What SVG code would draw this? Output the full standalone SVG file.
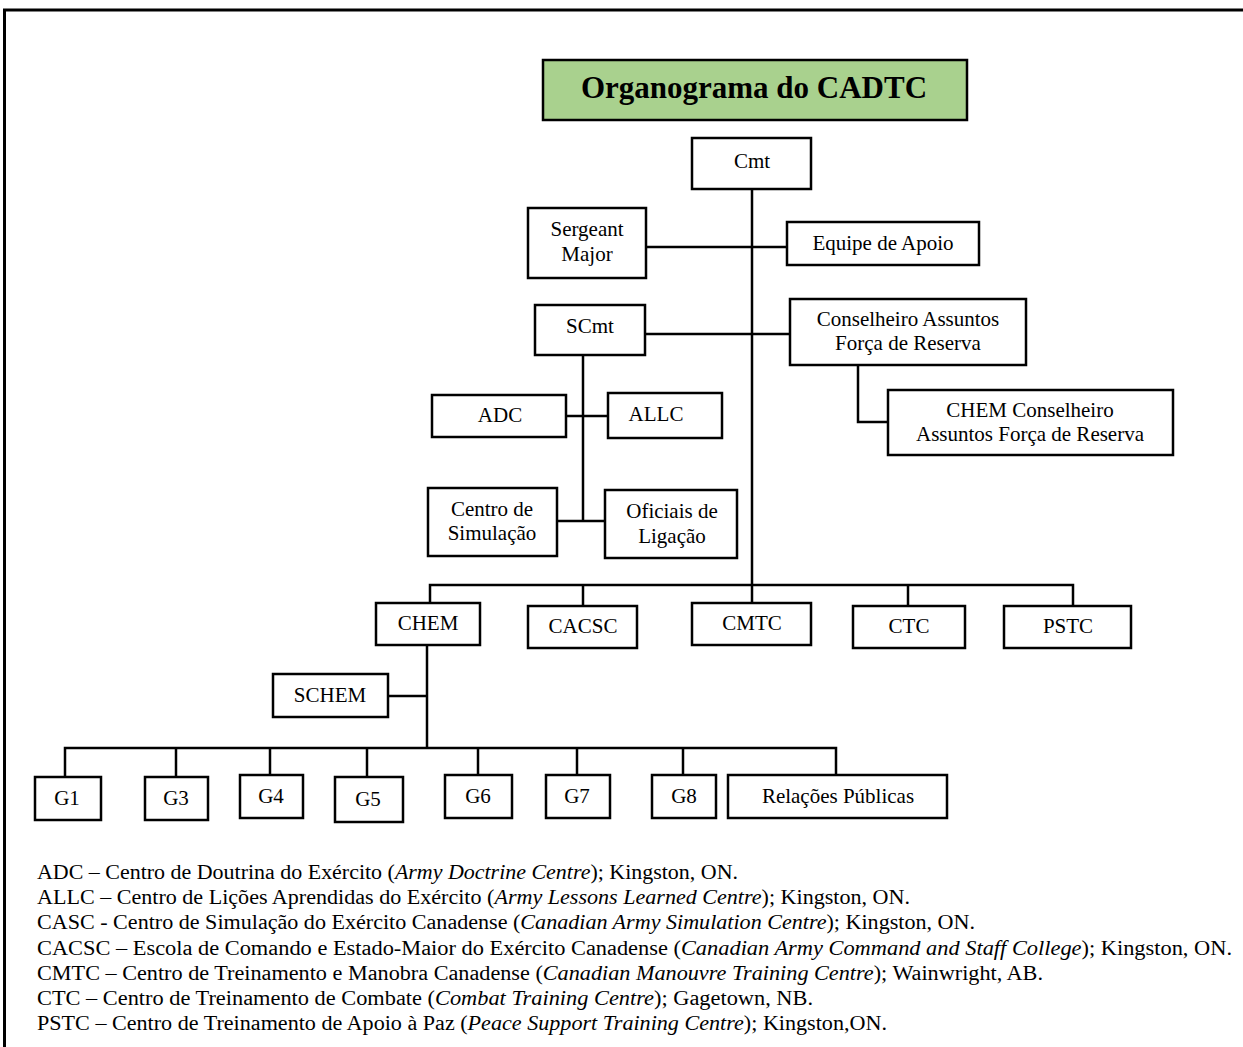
<svg xmlns="http://www.w3.org/2000/svg" width="1243" height="1047" viewBox="0 0 1243 1047" font-family="Liberation Serif, serif">
<style>
.box{fill:#fff;stroke:#000;stroke-width:2.5}
.t{font-size:21px;fill:#000;text-anchor:middle}
.ln{fill:none;stroke:#000;stroke-width:2.5}
.lg{font-size:20px;fill:#000}
.i{font-style:italic}
</style>
<rect width="1243" height="1047" fill="#fff"/>
<path d="M4.5 1047 V10 H1243" fill="none" stroke="#000" stroke-width="3"/>
<g id="title">
<rect x="543" y="60" width="424" height="60" fill="#a9d18e" stroke="#000" stroke-width="2.5"/>
<text x="754" y="98" font-family="Liberation Serif, serif" font-size="31" font-weight="bold" text-anchor="middle">Organograma do CADTC</text>
</g>
<g id="connectors">
<path class="ln" d="M752 189 V603"/>
<path class="ln" d="M646 247 H787"/>
<path class="ln" d="M645 334 H790"/>
<path class="ln" d="M858 365 V422 H888"/>
<path class="ln" d="M583 355 V521"/>
<path class="ln" d="M566 416 H608"/>
<path class="ln" d="M557 521 H605"/>
<path class="ln" d="M430 603 V585 H1073 V606"/>
<path class="ln" d="M583 585 V606"/>
<path class="ln" d="M908 585 V606"/>
<path class="ln" d="M427 645 V748"/>
<path class="ln" d="M388 696 H427"/>
<path class="ln" d="M65 777 V748 H836 V775"/>
<path class="ln" d="M176 748 V777"/>
<path class="ln" d="M270 748 V775"/>
<path class="ln" d="M367 748 V777"/>
<path class="ln" d="M478 748 V775"/>
<path class="ln" d="M577 748 V775"/>
<path class="ln" d="M683 748 V775"/>
</g>
<g id="cmt"><rect class="box" x="692" y="138" width="119" height="51"/><text class="t" x="752" y="168">Cmt</text></g>
<g id="sergeant"><rect class="box" x="528" y="208" width="118" height="70"/><text class="t" x="587" y="236">Sergeant</text><text class="t" x="587" y="261">Major</text></g>
<g id="equipe"><rect class="box" x="787" y="222" width="192" height="43"/><text class="t" x="883" y="250">Equipe de Apoio</text></g>
<g id="scmt"><rect class="box" x="535" y="305" width="110" height="50"/><text class="t" x="590" y="333">SCmt</text></g>
<g id="conselheiro"><rect class="box" x="790" y="299" width="236" height="66"/><text class="t" x="908" y="326">Conselheiro Assuntos</text><text class="t" x="908" y="350">Força de Reserva</text></g>
<g id="chem-conselheiro"><rect class="box" x="888" y="390" width="285" height="65"/><text class="t" x="1030" y="417">CHEM Conselheiro</text><text class="t" x="1030" y="441">Assuntos Força de Reserva</text></g>
<g id="adc"><rect class="box" x="432" y="395" width="134" height="42"/><text class="t" x="500" y="422">ADC</text></g>
<g id="allc"><rect class="box" x="608" y="393" width="114" height="45"/><text class="t" x="656" y="421">ALLC</text></g>
<g id="centro-sim"><rect class="box" x="428" y="488" width="129" height="68"/><text class="t" x="492" y="516">Centro de</text><text class="t" x="492" y="540">Simulação</text></g>
<g id="oficiais"><rect class="box" x="605" y="490" width="132" height="68"/><text class="t" x="672" y="518">Oficiais de</text><text class="t" x="672" y="543">Ligação</text></g>
<g id="chem"><rect class="box" x="376" y="603" width="104" height="42"/><text class="t" x="428" y="630">CHEM</text></g>
<g id="cacsc"><rect class="box" x="528" y="606" width="109" height="42"/><text class="t" x="583" y="633">CACSC</text></g>
<g id="cmtc"><rect class="box" x="692" y="603" width="119" height="42"/><text class="t" x="752" y="630">CMTC</text></g>
<g id="ctc"><rect class="box" x="853" y="606" width="112" height="42"/><text class="t" x="909" y="633">CTC</text></g>
<g id="pstc"><rect class="box" x="1004" y="606" width="127" height="42"/><text class="t" x="1068" y="633">PSTC</text></g>
<g id="schem"><rect class="box" x="273" y="674" width="115" height="43"/><text class="t" x="330" y="702">SCHEM</text></g>
<g id="g1"><rect class="box" x="35" y="777" width="66" height="43"/><text class="t" x="67" y="805">G1</text></g>
<g id="g3"><rect class="box" x="145" y="777" width="63" height="43"/><text class="t" x="176" y="805">G3</text></g>
<g id="g4"><rect class="box" x="240" y="775" width="63" height="43"/><text class="t" x="271" y="803">G4</text></g>
<g id="g5"><rect class="box" x="335" y="777" width="68" height="45"/><text class="t" x="368" y="806">G5</text></g>
<g id="g6"><rect class="box" x="445" y="775" width="67" height="43"/><text class="t" x="478" y="803">G6</text></g>
<g id="g7"><rect class="box" x="546" y="775" width="64" height="43"/><text class="t" x="577" y="803">G7</text></g>
<g id="g8"><rect class="box" x="652" y="775" width="64" height="43"/><text class="t" x="684" y="803">G8</text></g>
<g id="relacoes"><rect class="box" x="728" y="775" width="219" height="43"/><text class="t" x="838" y="803">Relações Públicas</text></g>
<g id="legend">
<text class="lg" x="37" y="879" textLength="701" lengthAdjust="spacingAndGlyphs">ADC – Centro de Doutrina do Exército (<tspan class="i">Army Doctrine Centre</tspan>); Kingston, ON.</text>
<text class="lg" x="37" y="904" textLength="873" lengthAdjust="spacingAndGlyphs">ALLC – Centro de Lições Aprendidas do Exército (<tspan class="i">Army Lessons Learned Centre</tspan>); Kingston, ON.</text>
<text class="lg" x="37" y="929" textLength="938" lengthAdjust="spacingAndGlyphs">CASC - Centro de Simulação do Exército Canadense (<tspan class="i">Canadian Army Simulation Centre</tspan>); Kingston, ON.</text>
<text class="lg" x="37" y="955" textLength="1195" lengthAdjust="spacingAndGlyphs">CACSC – Escola de Comando e Estado-Maior do Exército Canadense (<tspan class="i">Canadian Army Command and Staff College</tspan>); Kingston, ON.</text>
<text class="lg" x="37" y="980" textLength="1006" lengthAdjust="spacingAndGlyphs">CMTC – Centro de Treinamento e Manobra Canadense (<tspan class="i">Canadian Manouvre Training Centre</tspan>); Wainwright, AB.</text>
<text class="lg" x="37" y="1005" textLength="776" lengthAdjust="spacingAndGlyphs">CTC – Centro de Treinamento de Combate (<tspan class="i">Combat Training Centre</tspan>); Gagetown, NB.</text>
<text class="lg" x="37" y="1030" textLength="850" lengthAdjust="spacingAndGlyphs">PSTC – Centro de Treinamento de Apoio à Paz (<tspan class="i">Peace Support Training Centre</tspan>); Kingston,ON.</text>
</g>
</svg>
